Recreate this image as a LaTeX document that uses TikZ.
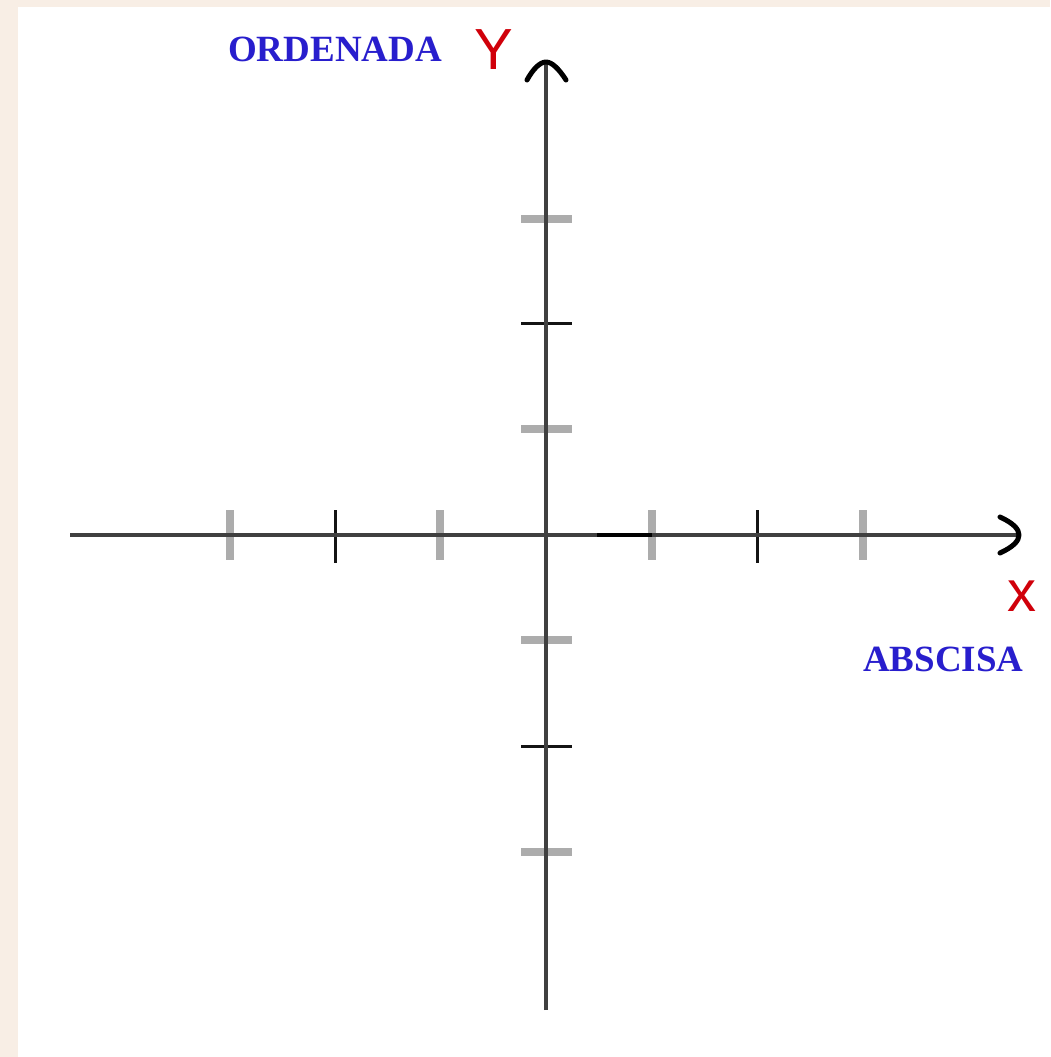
\documentclass[tikz,border=0pt]{standalone}
\usepackage{fontspec}
\setmainfont{Liberation Serif}
\newfontfamily\labsans{Liberation Sans}
\definecolor{cream}{RGB}{248,238,229}
\definecolor{axisgray}{RGB}{64,64,64}
\definecolor{tickgray}{RGB}{172,172,172}
\definecolor{tickdark}{RGB}{20,20,20}
\definecolor{lblue}{RGB}{40,30,205}
\definecolor{lred}{RGB}{208,0,10}
\begin{document}
\begin{tikzpicture}[x=1pt,y=-1pt,
  axisline/.style={line width=4pt,draw=axisgray},
  graytick/.style={line width=8pt,draw=tickgray},
  darktick/.style={line width=3pt,draw=tickdark},
  chevron/.style={line width=5pt,draw=black,line cap=round,line join=round},
  wordlabel/.style={text=lblue,font=\fontsize{37}{37}\selectfont\bfseries,inner sep=0pt,anchor=base west},
  axislabel/.style={text=lred,font=\labsans\fontsize{58}{58}\selectfont,inner sep=0pt,anchor=base}]
\useasboundingbox (0,0) rectangle (1050,1057);
\fill[cream] (0,0) rectangle (1050,1057);
\fill[white] (18,7) rectangle (1050,1057);
% axis end points
\coordinate (xl) at (70,535);
\coordinate (xr) at (1017,535);
\coordinate (yt) at (546,63);
\coordinate (yb) at (546,1010);
% ticks on x axis
\foreach \x in {230,440,652,863} \draw[graytick] (\x,510) -- (\x,560);
\foreach \x in {335,757} \draw[darktick] (\x,510) -- (\x,563);
% ticks on y axis
\foreach \y in {219,429,640,852} \draw[graytick] (521,\y) -- (572,\y);
\foreach \y in {323,746} \draw[darktick] (521,\y) -- (572,\y);
% axes
\draw[axisline] (xl) -- (xr);
\draw[axisline] (yb) -- (yt);
\draw[line width=4pt,draw=black] (597,535) -- (652,535);
% arrow heads
\draw[chevron] (1000,517) .. controls (1013,523) and (1019,529) .. (1019,535)
               .. controls (1019,541) and (1013,547) .. (1000,553);
\draw[chevron] (527,80) .. controls (533,69) and (540,62) .. (546,62)
               .. controls (552,62) and (559,69) .. (566,80);
% labels
\node[wordlabel] (ord) at (228,62) {ORDENADA};
\node[wordlabel] (abs) at (863,671) {ABSCISA};
\node[axislabel] (ylab) at (494,70) {Y};
\node[axislabel] (xlab) at (1022,611) {x};
\end{tikzpicture}
\end{document}
